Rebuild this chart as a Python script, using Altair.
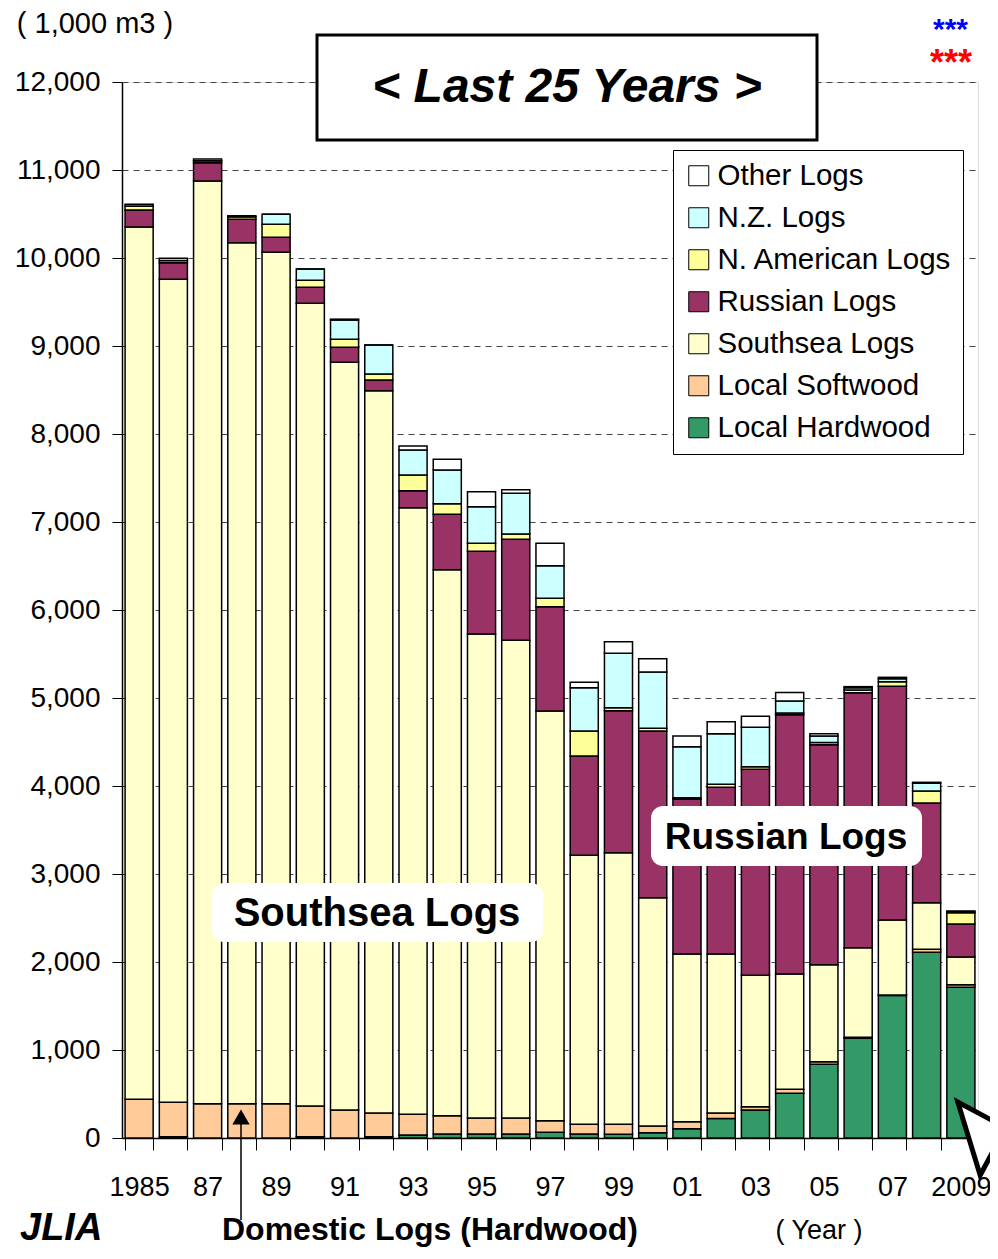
import altair as alt
import pandas as pd

years = [str(y) for y in range(1985, 2010)]
tick_labels = ["1985", "", "87", "", "89", "", "91", "", "93", "", "95", "", "97", "",
               "99", "", "01", "", "03", "", "05", "", "07", "", "2009"]

series_names = ["Local Hardwood", "Local Softwood", "Southsea Logs", "Russian Logs",
                "N. American Logs", "N.Z. Logs", "Other Logs"]
series_colors = ["#339966", "#FFCC99", "#FFFFCC", "#993366", "#FFFF99", "#CCFFFF", "#FFFFFF"]

local_hardwood = [0, 15, 0, 0, 0, 15, 0, 15, 34, 45, 45, 45, 65, 45, 42, 61, 106, 223, 318, 508,
                  837, 1133, 1620, 2110, 1713]
local_softwood = [440, 390, 390, 390, 390, 349, 318, 269, 235, 209, 182, 182, 132, 111, 114, 75,
                  80, 61, 38, 45, 30, 11, 5, 34, 29]
southsea = [9912, 9353, 10485, 9784, 9675, 9121, 8497, 8208, 6894, 6204, 5500, 5429, 4655, 3056,
            3086, 2595, 1905, 1807, 1493, 1311, 1103, 1019, 852, 530, 315]
russian = [193, 189, 208, 266, 170, 182, 170, 122, 193, 630, 940, 1147, 1186, 1129, 1614, 1894,
           1761, 1894, 2341, 2946, 2500, 2897, 2656, 1133, 375]
n_american = [45, 25, 23, 30, 148, 80, 91, 68, 178, 120, 91, 61, 95, 284, 34, 31, 15, 34, 30, 20,
              25, 31, 52, 136, 128]
nz = [0, 0, 0, 0, 114, 128, 219, 329, 284, 383, 416, 462, 370, 492, 618, 639, 580, 575, 447, 136,
      73, 25, 34, 88, 10]
other = [20, 25, 19, 11, 0, 0, 10, 0, 46, 121, 170, 41, 255, 61, 132, 152, 121, 137, 125, 96, 25,
         13, 16, 11, 10]

series_values = [local_hardwood, local_softwood, southsea, russian, n_american, nz, other]

rows = []
for k, (name, vals) in enumerate(zip(series_names, series_values)):
    for yr, v in zip(years, vals):
        rows.append({"year": yr, "series": name, "value": v, "ord": k})
df = pd.DataFrame(rows)

FONT = "Liberation Sans"
label_expr = "[" + ",".join("'%s'" % t for t in tick_labels) + "][indexof([" + \
    ",".join("'%s'" % y for y in years) + "], datum.value)]"

legend_domain = series_names[::-1]
legend_range = series_colors[::-1]

bars = alt.Chart(df).mark_bar(stroke="black", strokeWidth=1.5).encode(
    x=alt.X("year:O", sort=years,
            scale=alt.Scale(paddingInner=0.18, paddingOuter=0.09),
            axis=alt.Axis(title=None, labelExpr=label_expr, labelAngle=0, tickBand="extent",
                          tickSize=12, labelPadding=24, labelFontSize=27, labelFont=FONT,
                          labelColor="black", domainColor="black", tickColor="black",
                          domainWidth=1.5, grid=False)),
    y=alt.Y("value:Q", stack="zero",
            scale=alt.Scale(domain=[0, 12000], nice=False),
            axis=alt.Axis(title=None, values=list(range(0, 12001, 1000)), format=",.0f",
                          tickSize=10, labelPadding=12, labelFontSize=28, labelFont=FONT,
                          labelColor="black", domainColor="black", tickColor="black",
                          domainWidth=1.5, grid=True, gridDash=[6, 5], gridColor="#444444",
                          gridWidth=1.2)),
    color=alt.Color("series:N",
                    scale=alt.Scale(domain=legend_domain, range=legend_range),
                    legend=alt.Legend(title=None, orient="none", legendX=551, legendY=68,
                                      symbolType="square", symbolSize=400,
                                      symbolStrokeColor="black", symbolStrokeWidth=1,
                                      labelFontSize=29.5, labelFont=FONT, labelColor="black",
                                      rowPadding=11, padding=11, labelOffset=4, labelLimit=400,
                                      strokeColor="black", fillColor="white")),
    order=alt.Order("ord:Q", sort="ascending"),
)


def one(text="x"):
    return pd.DataFrame({"t": [text]})


# title box
title_box = alt.Chart(one()).mark_rect(fill="white", stroke="black", strokeWidth=3).encode(
    x=alt.value(195), x2=alt.value(695), y=alt.value(-47), y2=alt.value(58))
title_text = alt.Chart(one("< Last 25 Years >")).mark_text(
    font=FONT, fontSize=48, fontWeight="bold", fontStyle="italic", color="black",
    align="center", baseline="middle").encode(
    x=alt.value(445), y=alt.value(6), text="t:N")

unit_text = alt.Chart(one("( 1,000 m3 )")).mark_text(
    font=FONT, fontSize=29, color="black", align="center", baseline="middle").encode(
    x=alt.value(-27), y=alt.value(-58), text="t:N")

# annotation boxes
ss_box = alt.Chart(one()).mark_rect(fill="white", cornerRadius=12).encode(
    x=alt.value(90), x2=alt.value(421), y=alt.value(801), y2=alt.value(860))
ss_text = alt.Chart(one("Southsea Logs")).mark_text(
    font=FONT, fontSize=40, fontWeight="bold", color="black", align="center",
    baseline="middle").encode(x=alt.value(255), y=alt.value(832), text="t:N")
ru_box = alt.Chart(one()).mark_rect(fill="white", cornerRadius=12).encode(
    x=alt.value(529), x2=alt.value(800), y=alt.value(724), y2=alt.value(784))
ru_text = alt.Chart(one("Russian Logs")).mark_text(
    font=FONT, fontSize=37, fontWeight="bold", color="black", align="center",
    baseline="middle").encode(x=alt.value(664), y=alt.value(756), text="t:N")

# domestic logs arrow
arrow_line = alt.Chart(one()).mark_rule(color="black", strokeWidth=1.5).encode(
    x=alt.value(119), y=alt.value(1036), y2=alt.value(1138))
arrow_head = alt.Chart(one()).mark_point(shape="triangle-up", filled=True, color="black",
                                         size=300, opacity=1).encode(
    x=alt.value(119), y=alt.value(1035))
dom_text = alt.Chart(one("Domestic Logs (Hardwood)")).mark_text(
    font=FONT, fontSize=32, fontWeight="bold", color="black", align="center",
    baseline="bottom").encode(x=alt.value(308), y=alt.value(1165), text="t:N")
year_text = alt.Chart(one("( Year )")).mark_text(
    font=FONT, fontSize=27, color="black", align="center", baseline="bottom").encode(
    x=alt.value(697), y=alt.value(1163), text="t:N")
logo_text = alt.Chart(one("JLIA")).mark_text(
    font=FONT, fontSize=38, fontWeight="bold", fontStyle="italic", color="black",
    align="left", baseline="bottom").encode(x=alt.value(-102), y=alt.value(1166), text="t:N")

# corner marks
red_stars = alt.Chart(one("***")).mark_text(
    font=FONT, fontSize=36, fontWeight="bold", color="#FF0000", align="left",
    baseline="middle").encode(x=alt.value(808), y=alt.value(-18), text="t:N")
blue_stars = alt.Chart(one("***")).mark_text(
    font=FONT, fontSize=30, fontWeight="bold", color="#0000FF", align="left",
    baseline="middle").encode(x=alt.value(811), y=alt.value(-52), text="t:N")

# mouse cursor
cursor_path = "M-1,-1 L-1,0.7 L-0.6,0.3 L-0.3,1 L-0.1,0.9 L-0.4,0.2 L0.2,0.2 Z"
cursor = alt.Chart(one()).mark_point(shape=cursor_path, filled=True, fill="white",
                                     stroke="black", strokeWidth=5, size=8100, opacity=1,
                                     angle=343).encode(
    x=alt.value(892), y=alt.value(1050))

chart = alt.layer(
    bars, ss_box, ss_text, ru_box, ru_text, title_box, title_text, unit_text,
    arrow_line, arrow_head, dom_text, year_text, logo_text, red_stars, blue_stars, cursor
).properties(
    width=856, height=1056,
    autosize=alt.AutoSizeParams(type="none"),
    padding={"left": 114, "top": 74, "right": 12, "bottom": 112},
).configure_view(stroke="black", strokeWidth=1.5).configure(background="white")

chart.save("out.html", embed_options={"renderer": "svg", "actions": False})
